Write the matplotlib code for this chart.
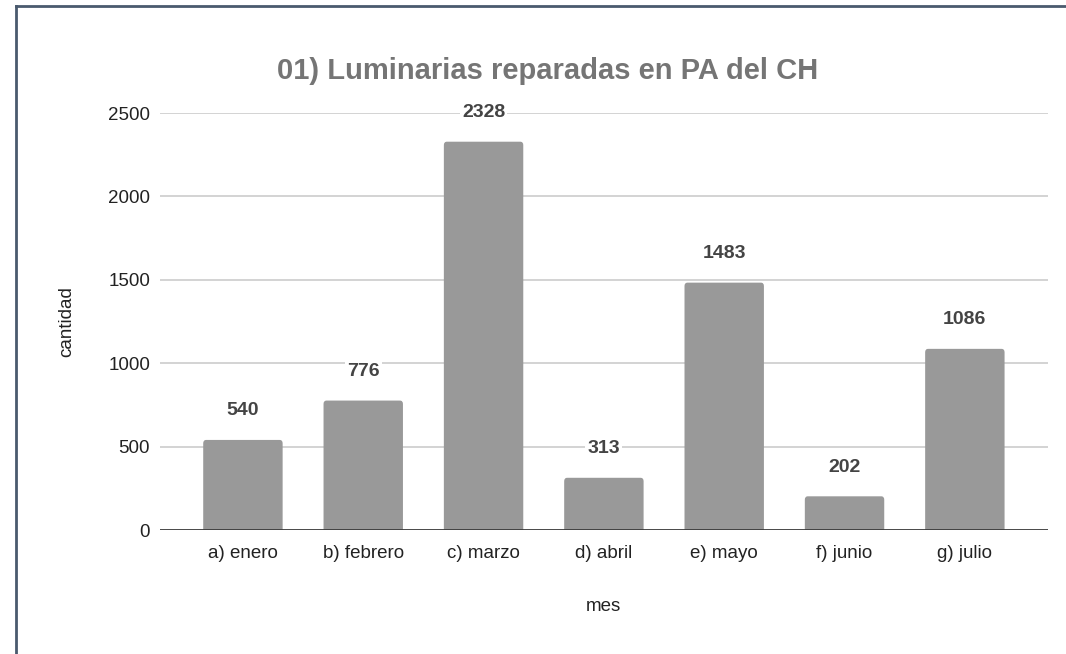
import matplotlib
matplotlib.use('Agg')
import matplotlib.pyplot as plt
from matplotlib.patches import FancyBboxPatch
from matplotlib.lines import Line2D

# chart data
meses = ['a) enero', 'b) febrero', 'c) marzo', 'd) abril', 'e) mayo', 'f) junio', 'g) julio']
cantidad = [540, 776, 2328, 313, 1483, 202, 1086]
y_ticks = [0, 500, 1000, 1500, 2000, 2500]

plt.rcParams['font.family'] = ['Liberation Sans', 'DejaVu Sans']

fig = plt.figure(figsize=(10.66, 6.54), dpi=100)
ax = fig.add_axes([0.150, 0.1896, 0.833, 0.6376])

bar_color = '#999999'
width = 0.66
ax.set_xlim(-0.69, len(meses) - 0.31)
ax.set_ylim(0, 2500)
for i, v in enumerate(cantidad):
    # bars with slightly rounded top corners (bottom corners clipped by the axes)
    ax.add_patch(FancyBboxPatch((i - width / 2, -40), width, v + 40,
                                boxstyle='round,pad=0,rounding_size=0.025',
                                mutation_aspect=800, facecolor=bar_color,
                                edgecolor='none', zorder=3))
    ax.annotate(str(v), xy=(i, v), xytext=(0, 21), textcoords='offset points',
                ha='center', va='center', fontsize=14, fontweight='bold', color='#444444',
                bbox=dict(facecolor='white', edgecolor='none', pad=1.5), zorder=4)

ax.set_yticks(y_ticks)
ax.set_xticks(range(len(meses)))
ax.set_xticklabels(meses)
ax.tick_params(axis='both', length=0, labelsize=13.5, labelcolor='#222222')
ax.tick_params(axis='y', pad=7)
ax.tick_params(axis='x', pad=11)
ax.yaxis.grid(True, color='#cccccc', lw=1.2, zorder=1)
ax.set_axisbelow(True)
ax.axhline(0, color='#333333', lw=1.2, zorder=5)
for s in ax.spines.values():
    s.set_visible(False)

ax.set_xlabel('mes', fontsize=13.5, color='#222222', labelpad=26)
ax.set_ylabel('cantidad', fontsize=13.5, color='#222222', labelpad=24)
fig.text(0.514, 0.891, '01) Luminarias reparadas en PA del CH', ha='center', va='center',
         fontsize=21, fontweight='bold', color='#757575')

# frame of the screenshot (top and left edge)
fig.add_artist(Line2D([16 / 1066, 16 / 1066], [0, 1 - 6 / 654], color='#4a5a6e', lw=2,
                      transform=fig.transFigure))
fig.add_artist(Line2D([16 / 1066, 1], [1 - 6 / 654, 1 - 6 / 654], color='#4a5a6e', lw=2,
                      transform=fig.transFigure))

fig.savefig('out.png', dpi=100)
